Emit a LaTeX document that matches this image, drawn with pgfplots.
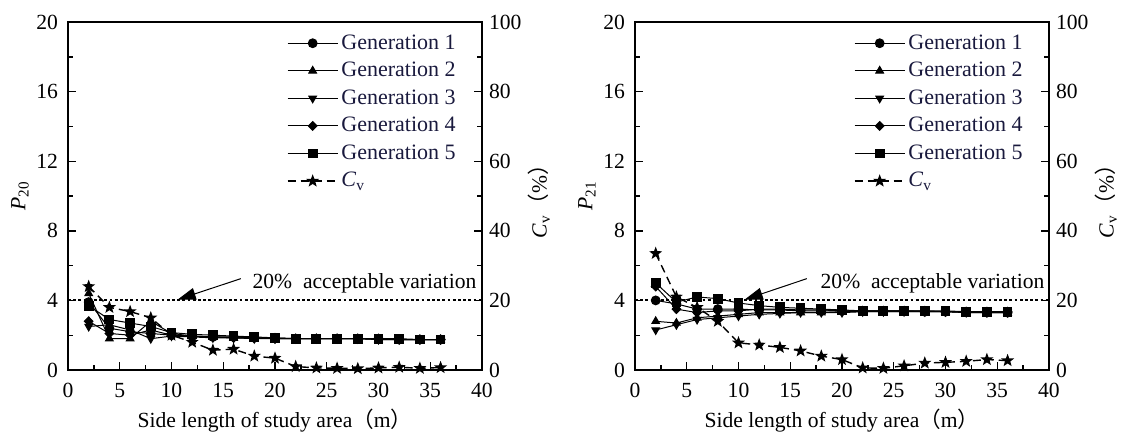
\documentclass[border=0pt]{standalone}
\usepackage{fontspec}
\setmainfont{Liberation Serif}
\newfontfamily\cjk{Noto Sans CJK SC}
\usepackage{pgfplots}
\usepackage{pgfplotstable}
\pgfplotsset{compat=1.18}
\usetikzlibrary{arrows.meta}

\definecolor{legtext}{rgb}{0.1,0.1,0.24}

% filled five-pointed star
\pgfdeclareplotmark{fstar}{%
  \pgfpathmoveto{\pgfpointpolar{90}{1.2\pgfplotmarksize}}%
  \pgfpathlineto{\pgfpointpolar{126}{0.5\pgfplotmarksize}}%
  \pgfpathlineto{\pgfpointpolar{162}{1.2\pgfplotmarksize}}%
  \pgfpathlineto{\pgfpointpolar{198}{0.5\pgfplotmarksize}}%
  \pgfpathlineto{\pgfpointpolar{234}{1.2\pgfplotmarksize}}%
  \pgfpathlineto{\pgfpointpolar{270}{0.5\pgfplotmarksize}}%
  \pgfpathlineto{\pgfpointpolar{306}{1.2\pgfplotmarksize}}%
  \pgfpathlineto{\pgfpointpolar{342}{0.5\pgfplotmarksize}}%
  \pgfpathlineto{\pgfpointpolar{18}{1.2\pgfplotmarksize}}%
  \pgfpathlineto{\pgfpointpolar{54}{0.5\pgfplotmarksize}}%
  \pgfpathclose\pgfusepathqfillstroke}

% P20 panel
\pgfplotstableread{
x  g1   g2   g3   g4   g5   cv
2  3.9  4.4  2.5  2.8  3.7  24
4  2.4  1.8  2.6  2.1  2.9  18
6  2.2  1.8  2.3  2.0  2.7  16.8
8  2.1  2.8  1.8  2.3  2.5  15
10 2.0  2.1  1.95 2.0  2.15 10
12 1.95 1.95 1.9  1.95 2.05 8
14 1.9  1.9  1.85 1.9  2.0  5.7
16 1.9  1.85 1.85 1.85 1.95 6
18 1.85 1.85 1.8  1.85 1.9  4
20 1.85 1.8  1.8  1.8  1.85 3.4
22 1.8  1.8  1.8  1.8  1.8  1
24 1.8  1.8  1.8  1.8  1.8  0.6
26 1.8  1.8  1.8  1.8  1.8  0.5
28 1.8  1.8  1.8  1.8  1.8  0.4
30 1.8  1.75 1.75 1.8  1.8  0.6
32 1.75 1.75 1.75 1.75 1.8  0.8
34 1.75 1.75 1.75 1.75 1.75 0.5
36 1.75 1.75 1.75 1.75 1.75 0.7
}\tabA

% P21 panel
\pgfplotstableread{
x  g1   g2   g3   g4   g5   cv
2  4.0  2.8  2.3  4.8  5.0  33.5
4  3.8  2.7  2.6  3.5  3.9  21
6  3.5  3.0  2.9  3.3  4.2  18
8  3.5  3.1  3.0  3.4  4.1  14
10 3.5  3.2  3.1  3.4  3.85 7.8
12 3.45 3.3  3.2  3.5  3.7  7.2
14 3.45 3.3  3.25 3.5  3.6  6.5
16 3.4  3.3  3.3  3.45 3.55 5.5
18 3.4  3.3  3.3  3.45 3.5  4
20 3.4  3.35 3.3  3.4  3.45 3
22 3.4  3.35 3.35 3.4  3.4  0.6
24 3.4  3.35 3.35 3.4  3.4  0.5
26 3.4  3.35 3.35 3.4  3.4  1.2
28 3.35 3.35 3.35 3.4  3.4  2
30 3.35 3.35 3.35 3.35 3.4  2.2
32 3.35 3.3  3.3  3.35 3.35 2.5
34 3.3  3.3  3.3  3.35 3.35 3
36 3.3  3.3  3.3  3.35 3.35 2.7
}\tabB

\tikzset{
  refline/.style={line width=1pt, dash pattern=on 1.4pt off 1.2pt},
  annarrow/.style={line width=0.5pt, -{Triangle[length=9pt, width=6pt]}},
}

\pgfplotsset{
  common/.style={
    scale only axis, width=207pt, height=174pt, anchor=south west,
    xmin=0, xmax=40,
    tick align=inside,
    major tick length=4pt, minor tick length=2.5pt,
    axis line style={-, line width=0.9pt},
    tick style={line width=0.7pt, black},
    ticklabel style={font=\fontsize{10.8}{12}\selectfont},
    /pgf/number format/assume math mode=true,
    label style={font=\fontsize{10.8}{12}\selectfont},
  },
  panel/.style={
    common,
    ymin=0, ymax=20,
    xtick={0,5,...,40}, ytick={0,4,...,20},
    minor x tick num=1, minor y tick num=1,
    xtick pos=bottom, ytick pos=left,
    xticklabel style={yshift=-3pt},
    yticklabel style={xshift=-1.5pt},
    xlabel={Side length of study area{\cjk （}m{\cjk ）}},
    xlabel style={at={(axis description cs:0.5,-0.144)}, anchor=center},
    ylabel style={at={(axis description cs:-0.116,0.5)}, anchor=center},
  },
  cvaxis/.style={
    common,
    ymin=0, ymax=100,
    axis x line=none, axis y line*=right,
    ytick={0,20,...,100}, minor y tick num=1,
    ylabel={\textit{C}\textsubscript{v}{\cjk （}\%{\cjk ）}},
    ylabel style={at={(axis description cs:1.138,0.5)}, anchor=center},
    legend style={draw=none, fill=none, text=legtext,
      at={(rel axis cs:0.528,0.974)}, anchor=north west,
      font=\fontsize{11}{12}\selectfont,
      row sep=2.0pt, inner sep=0pt, nodes={inner sep=1.5pt}},
    legend cell align=left,
    legend image code/.code={\draw[mark repeat=2, mark phase=2, ##1]
      plot coordinates {(0pt,0pt) (12.5pt,0pt) (25pt,0pt)};},
  },
  gen/.style={black, line width=0.5pt, mark size=2.2pt},
  dia/.style={mark=diamond*, mark options={solid, fill=black, xscale=1.3}},
  cv/.style={black, line width=0.7pt, dash pattern=on 4pt off 2.5pt,
    mark=fstar, mark size=2pt, mark options={solid, fill=black}},
}

\begin{document}
\begin{tikzpicture}
\useasboundingbox (0,0) rectangle (563pt,218pt);

% ---------- left: P20 ----------
\begin{axis}[panel, at={(34pt,33pt)}, ylabel={\textit{P}\textsubscript{20}}]
\addplot[gen, mark=*, mark options={solid, fill=black}] table[y=g1] {\tabA};
\addplot[gen, mark=triangle*, mark options={solid, fill=black}] table[y=g2] {\tabA};
\addplot[gen, mark=triangle*, mark options={solid, fill=black, rotate=180}] table[y=g3] {\tabA};
\addplot[gen, dia] table[y=g4] {\tabA};
\addplot[gen, mark=square*, mark options={solid, fill=black}] table[y=g5] {\tabA};
\draw[annarrow] (axis cs:16.7,5.25) -- (axis cs:10.6,4.05);
\node[anchor=west, font=\fontsize{10.8}{12}\selectfont, inner sep=0pt] at (axis cs:17.8,5.0) {20\%\ \ acceptable variation};
\end{axis}
\begin{axis}[cvaxis, at={(34pt,33pt)}]
\draw[refline] (axis cs:0,20) -- (axis cs:40,20);
\addlegendimage{gen, mark=*, mark options={solid, fill=black}}
\addlegendentry{Generation 1}
\addlegendimage{gen, mark=triangle*, mark options={solid, fill=black}}
\addlegendentry{Generation 2}
\addlegendimage{gen, mark=triangle*, mark options={solid, fill=black, rotate=180}}
\addlegendentry{Generation 3}
\addlegendimage{gen, dia}
\addlegendentry{Generation 4}
\addlegendimage{gen, mark=square*, mark options={solid, fill=black}}
\addlegendentry{Generation 5}
\addplot[cv] table[y=cv] {\tabA};
\addlegendentry{\textit{C}\textsubscript{v}}
\end{axis}

% ---------- right: P21 ----------
\begin{axis}[panel, at={(317.5pt,33pt)}, ylabel={\textit{P}\textsubscript{21}}]
\addplot[gen, mark=*, mark options={solid, fill=black}] table[y=g1] {\tabB};
\addplot[gen, mark=triangle*, mark options={solid, fill=black}] table[y=g2] {\tabB};
\addplot[gen, mark=triangle*, mark options={solid, fill=black, rotate=180}] table[y=g3] {\tabB};
\addplot[gen, dia] table[y=g4] {\tabB};
\addplot[gen, mark=square*, mark options={solid, fill=black}] table[y=g5] {\tabB};
\draw[annarrow] (axis cs:16.6,5.25) -- (axis cs:10.6,4.05);
\node[anchor=west, font=\fontsize{10.8}{12}\selectfont, inner sep=0pt] at (axis cs:17.9,5.0) {20\%\ \ acceptable variation};
\end{axis}
\begin{axis}[cvaxis, at={(317.5pt,33pt)}]
\draw[refline] (axis cs:0,20) -- (axis cs:40,20);
\addlegendimage{gen, mark=*, mark options={solid, fill=black}}
\addlegendentry{Generation 1}
\addlegendimage{gen, mark=triangle*, mark options={solid, fill=black}}
\addlegendentry{Generation 2}
\addlegendimage{gen, mark=triangle*, mark options={solid, fill=black, rotate=180}}
\addlegendentry{Generation 3}
\addlegendimage{gen, dia}
\addlegendentry{Generation 4}
\addlegendimage{gen, mark=square*, mark options={solid, fill=black}}
\addlegendentry{Generation 5}
\addplot[cv] table[y=cv] {\tabB};
\addlegendentry{\textit{C}\textsubscript{v}}
\end{axis}
\end{tikzpicture}
\end{document}
